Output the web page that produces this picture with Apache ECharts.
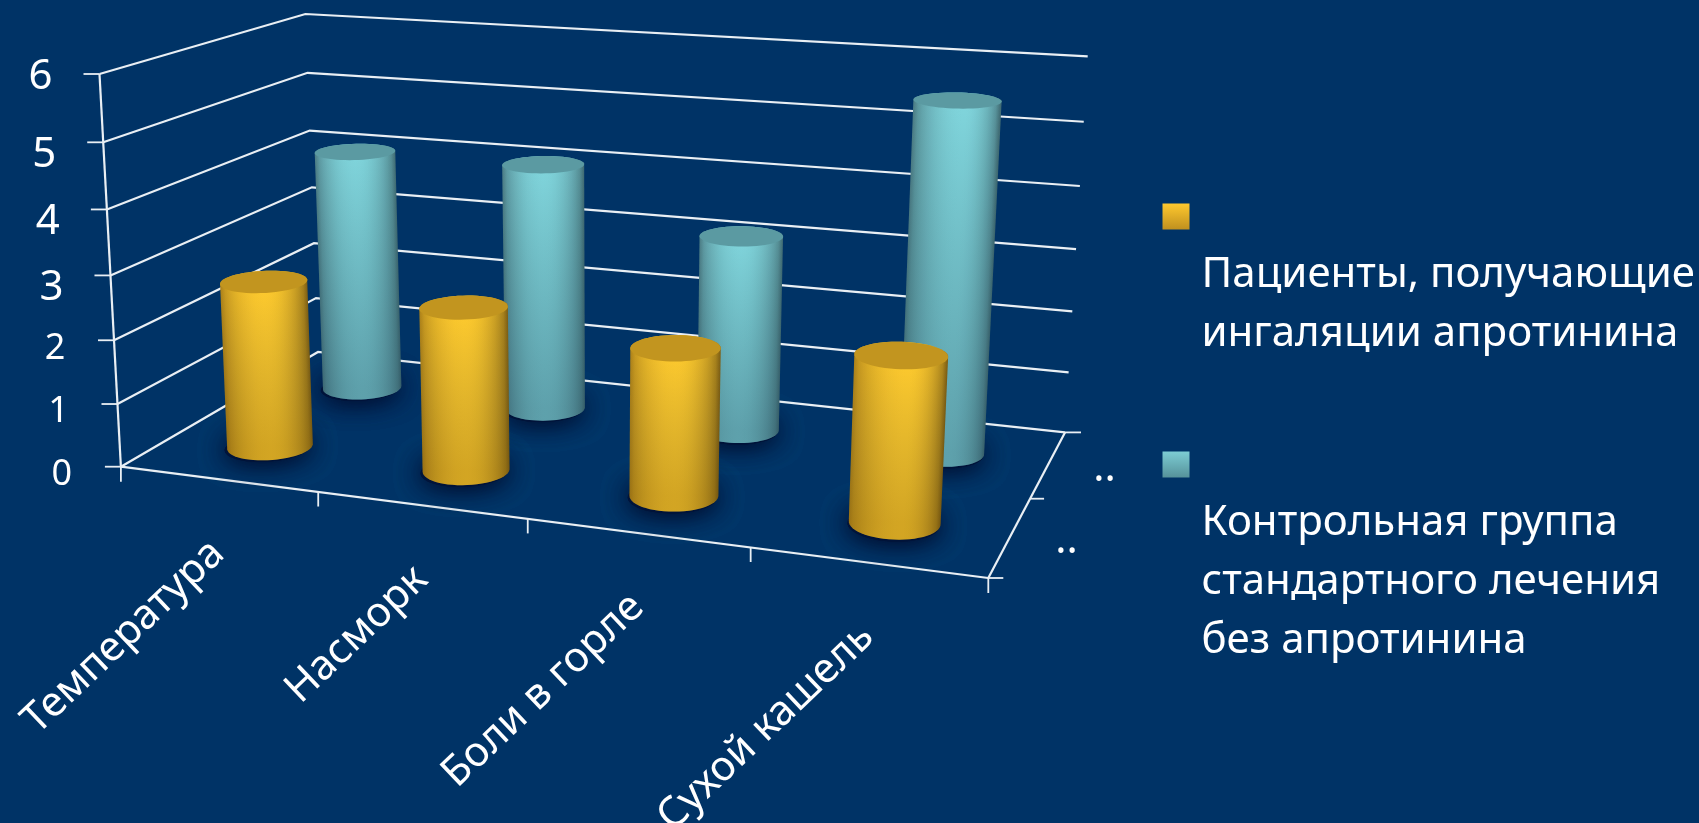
<!DOCTYPE html>
<html>
<head>
<meta charset="utf-8">
<style>
  html, body { margin: 0; padding: 0; background: #003366; overflow: hidden; }
  #chart { width: 1699px; height: 823px; }
</style>
<script src="https://cdn.jsdelivr.net/npm/echarts@6/dist/echarts.min.js"></script>
</head>
<body>
<div id="chart"></div>
<script>
// Chart values
const categories = ['Температура', 'Насморк', 'Боли в горле', 'Сухой кашель'];
const treatedName = 'Пациенты, получающие ингаляции апротинина';
const controlName = 'Контрольная группа стандартного лечения без апротинина';
const treatedValues = [2.65, 2.55, 2.25, 2.47];
const controlValues = [4.05, 4.07, 3.17, 5.5];
const valueTicks = [0, 1, 2, 3, 4, 5, 6];
const depthLabels = ['...', '...'];

const FONT = '"Noto Sans", sans-serif';
const LINE = '#e9eff4';

// Perspective frame of the plot box: floor and ceiling corners,
// ordered front-left, front-right, back-right, back-left.
const FLOOR = [[120.9, 466.7], [988.3, 578], [1065, 432.4], [318, 352]];
const CEIL = [[99.5, 74], [1011.5, 133.5], [1087.7, 56.3], [305.4, 14]];
const HEIGHT_FORESHORTEN = 1.053;
const ROW_TREATED = 0.25;
const ROW_CONTROL = 0.75;
const RADIUS_U = 0.049;
const RADIUS_V = 0.105;

function quadMap(q) {
  const [p0, p1, p2, p3] = q;
  const dx1 = p1[0] - p2[0], dx2 = p3[0] - p2[0], sx = p0[0] - p1[0] + p2[0] - p3[0];
  const dy1 = p1[1] - p2[1], dy2 = p3[1] - p2[1], sy = p0[1] - p1[1] + p2[1] - p3[1];
  const den = dx1 * dy2 - dx2 * dy1;
  const g = (sx * dy2 - dx2 * sy) / den;
  const h = (dx1 * sy - sx * dy1) / den;
  const a = p1[0] - p0[0] + g * p1[0], b = p3[0] - p0[0] + h * p3[0];
  const d = p1[1] - p0[1] + g * p1[1], e = p3[1] - p0[1] + h * p3[1];
  return (u, v) => {
    const w = 1 + g * u + h * v;
    return [(a * u + b * v + p0[0]) / w, (d * u + e * v + p0[1]) / w];
  };
}
const floorMap = quadMap(FLOOR);
const ceilMap = quadMap(CEIL);

// u: along categories, v: depth, t: share of the value axis
function project(u, v, t) {
  const p0 = floorMap(u, v), p1 = ceilMap(u, v);
  const s = t / (t + (1 - t) * HEIGHT_FORESHORTEN);
  return [p0[0] + (p1[0] - p0[0]) * s, p0[1] + (p1[1] - p0[1]) * s];
}

// Axis scales -> scene coordinates
function sceneOf(api, cat, val) {
  const c = api.coord([cat, val]);
  return { u: c[0] / api.getWidth(), t: 1 - c[1] / api.getHeight() };
}

function ring(u, v, t, scale) {
  const pts = [];
  for (let i = 0; i < 56; i++) {
    const a = i / 56 * Math.PI * 2;
    pts.push(project(u + RADIUS_U * scale * Math.cos(a), v + RADIUS_V * scale * Math.sin(a), t));
  }
  return pts;
}

function hull(points) {
  const p = points.slice().sort((a, b) => a[0] - b[0] || a[1] - b[1]);
  const cross = (o, a, b) => (a[0] - o[0]) * (b[1] - o[1]) - (a[1] - o[1]) * (b[0] - o[0]);
  const lo = [], up = [];
  p.forEach(q => {
    while (lo.length > 1 && cross(lo[lo.length - 2], lo[lo.length - 1], q) <= 0) lo.pop();
    lo.push(q);
  });
  p.slice().reverse().forEach(q => {
    while (up.length > 1 && cross(up[up.length - 2], up[up.length - 1], q) <= 0) up.pop();
    up.push(q);
  });
  return lo.slice(0, -1).concat(up.slice(0, -1));
}

function extremeX(pts, fn) {
  return pts.reduce((m, p) => (fn(p[0], m[0]) ? p : m), pts[0]);
}

function mix(c0, c1, k) {
  const out = c0.map((v, i) => Math.round(v + (c1[i] - v) * k));
  return 'rgb(' + out.join(',') + ')';
}

// Round-surface falloff from the highlight out to both rims
function shadingStops(hl, pal) {
  const stops = [];
  for (let i = 0; i <= 20; i++) {
    const x = i / 20;
    const d = x < hl ? (hl - x) / hl : (x - hl) / (1 - hl);
    const k = Math.pow(Math.cos(d * Math.PI / 2), 0.62);
    stops.push({ offset: x, color: mix(x < hl ? pal.rimLeft : pal.rimRight, pal.light, k) });
  }
  return stops;
}

function cylinderRenderer(row, pal) {
  return function (params, api) {
    const cat = api.value(0), val = api.value(1);
    const s = sceneOf(api, cat, val);
    const base = ring(s.u, row, 0, 1);
    const top = ring(s.u, row, s.t, 1);
    const shadow = ring(s.u, row - 0.012, 0, 1);
    const left = extremeX(base, (a, b) => a < b), right = extremeX(base, (a, b) => a > b);
    const topL = extremeX(top, (a, b) => a < b), topR = extremeX(top, (a, b) => a > b);
    const midL = [(left[0] + topL[0]) / 2, (left[1] + topL[1]) / 2];
    const midR = [(right[0] + topR[0]) / 2, (right[1] + topR[1]) / 2];
    const bc = project(s.u, row, 0), tc = project(s.u, row, s.t);
    // shading runs across the cylinder, square to its leaning axis
    const ax = tc[0] - bc[0], ay = tc[1] - bc[1], len = Math.hypot(ax, ay);
    const nx = -ay / len, ny = ax / len;
    const sign = nx > 0 ? 1 : -1;
    const half = Math.abs((midR[0] - midL[0]) * nx + (midR[1] - midL[1]) * ny) / 2;
    const mc = [(bc[0] + tc[0]) / 2, (bc[1] + tc[1]) / 2];
    const hl = 0.5 + Math.max(0, s.u - 0.7) * 0.45;
    const across = {
      type: 'linear', global: true,
      x: mc[0] - sign * nx * half, y: mc[1] - sign * ny * half,
      x2: mc[0] + sign * nx * half, y2: mc[1] + sign * ny * half,
      colorStops: shadingStops(hl, pal)
    };
    const along = {
      type: 'linear', global: true, x: tc[0], y: tc[1], x2: bc[0], y2: bc[1],
      colorStops: [{ offset: 0, color: 'rgba(0,25,40,0)' }, { offset: 1, color: pal.dim }]
    };
    const body = hull(base.concat(top));
    const soft = { fill: 'rgba(0,20,58,0.95)', shadowBlur: 26, shadowColor: 'rgba(0,14,48,1)' };
    return {
      type: 'group',
      children: [
        { type: 'polygon', shape: { points: shadow }, style: soft },
        { type: 'polygon', shape: { points: shadow }, style: soft },
        { type: 'polygon', shape: { points: body }, style: { fill: across } },
        { type: 'polygon', shape: { points: body }, style: { fill: along } },
        { type: 'polygon', shape: { points: top }, style: { fill: pal.cap } }
      ]
    };
  };
}

function seg(a, b, width) {
  return { type: 'line', shape: { x1: a[0], y1: a[1], x2: b[0], y2: b[1] },
           style: { stroke: LINE, lineWidth: width, fill: null } };
}

// Wall grid lines, value ticks and value labels
function renderValueTick(params, api) {
  const val = api.value(1);
  const t = sceneOf(api, 0, val).t;
  const front = project(0, 0, t), corner = project(0, 1, t), end = project(1, 1, t);
  const small = val < 3;
  const dy = val === 6 ? 3 : (small ? 8 : 13);
  return {
    type: 'group',
    children: [
      { type: 'polyline', shape: { points: [front, corner, end] },
        style: { stroke: LINE, lineWidth: 2.2, fill: null } },
      seg(front, [front[0] - 16, front[1]], 1.8),
      { type: 'text', x: front[0] - 59, y: front[1] + dy,
        style: { text: String(val), fill: '#fff', font: (small ? 36 : 42) + 'px ' + FONT,
                 align: 'center', verticalAlign: 'middle' } }
    ]
  };
}

// Box edges that carry the category and depth ticks
function renderEdges() {
  const fl = project(0, 0, 0), fr = project(1, 0, 0), br = project(1, 1, 0);
  const mid = project(1, 0.5, 0);
  return {
    type: 'group',
    children: [
      seg(project(0, 0, 1), fl, 2.2),
      seg(fl, fr, 2.2),
      seg(fr, br, 2.2),
      seg(fl, [fl[0], fl[1] + 15], 1.8),
      seg(fr, [fr[0], fr[1] + 15], 1.8),
      seg(fr, [fr[0] + 15, fr[1]], 1.8),
      seg(mid, [mid[0] + 14, mid[1]], 1.8),
      seg(br, [br[0] + 16, br[1]], 1.8)
    ]
  };
}

function renderCategory(params, api) {
  const cat = api.value(0);
  const centre = sceneOf(api, cat, 0).u;
  const tick = project(centre + 0.125, 0, 0);
  const foot = project(centre, 0, 0);
  const label = { type: 'text', x: foot[0], y: foot[1] + 68, rotation: 0.76,
    style: { text: categories[cat], fill: '#fff', font: '41.5px ' + FONT,
             align: 'right', verticalAlign: 'middle' } };
  const children = [label];
  if (cat < categories.length - 1) {
    children.push(seg(tick, [tick[0], tick[1] + 14.5], 1.8));
  }
  return { type: 'group', children };
}

function renderDepthLabel(params, api) {
  const row = params.dataIndex === 0 ? ROW_TREATED : ROW_CONTROL;
  const p = project(1, row, 0);
  return {
    type: 'text', x: p[0] + 45, y: p[1] + 26,
    clipPath: { type: 'rect', shape: { x: 0, y: -40, width: 24, height: 60 } },
    style: { text: depthLabels[params.dataIndex], fill: '#fff', font: '42px ' + FONT,
             align: 'left', verticalAlign: 'bottom' }
  };
}

const treatedPalette = { rimLeft: [176, 132, 26], rimRight: [128, 96, 20], light: [255, 203, 46],
  dim: 'rgba(70,45,0,0.24)', cap: '#c2951f' };
const controlPalette = { rimLeft: [78, 128, 136], rimRight: [66, 110, 118], light: [128, 213, 220],
  dim: 'rgba(15,40,60,0.3)', cap: '#5b9aa2' };

const legendSplits = {
  [treatedName]: '\n\n\nПациенты, получающие\nингаляции апротинина',
  [controlName]: '\n\n\n\nКонтрольная группа\nстандартного лечения\nбез апротинина'
};
function legendBlock(name, top, stops) {
  return {
    left: 1157.5, top, orient: 'vertical', itemWidth: 27, itemHeight: 26,
    icon: 'rect', selectedMode: false,
    data: [{ name, itemStyle: { color: { type: 'linear', x: 0, y: 0, x2: 0, y2: 1, colorStops: stops } } }],
    formatter: n => legendSplits[n],
    textStyle: { color: '#fff', fontSize: 42, lineHeight: 59, fontFamily: FONT, padding: [0, 0, 0, 7] }
  };
}

const chart = echarts.init(document.getElementById('chart'), null, { renderer: 'canvas' });
chart.setOption({
  animation: false,
  backgroundColor: '#003366',
  legend: [
    legendBlock(treatedName, 64, [{ offset: 0, color: '#ffc92e' }, { offset: 1, color: '#c0901f' }]),
    legendBlock(controlName, 253, [{ offset: 0, color: '#7dcdd4' }, { offset: 1, color: '#56929a' }])
  ],
  grid: { left: 0, right: 0, top: 0, bottom: 0 },
  xAxis: { type: 'category', data: categories, show: false },
  yAxis: { type: 'value', min: 0, max: 6, interval: 1, show: false },
  series: [
    { type: 'custom', name: 'walls', z: 1, silent: true, renderItem: renderValueTick,
      data: valueTicks.map(v => [0, v]) },
    { type: 'custom', name: 'edges', z: 1, silent: true, renderItem: renderEdges, data: [[0, 0]] },
    { type: 'custom', name: 'categoryLabels', z: 1, silent: true, renderItem: renderCategory,
      data: categories.map((c, i) => [i, 0]) },
    { type: 'custom', name: 'depthLabels', z: 1, silent: true, renderItem: renderDepthLabel,
      data: depthLabels.map((d, i) => [0, i]) },
    { type: 'custom', name: controlName, z: 3, renderItem: cylinderRenderer(ROW_CONTROL, controlPalette),
      itemStyle: { color: '#6cb4bc' }, data: controlValues.map((v, i) => [i, v]) },
    { type: 'custom', name: treatedName, z: 4, renderItem: cylinderRenderer(ROW_TREATED, treatedPalette),
      itemStyle: { color: '#e0a92c' }, data: treatedValues.map((v, i) => [i, v]) }
  ]
});
</script>
</body>
</html>
